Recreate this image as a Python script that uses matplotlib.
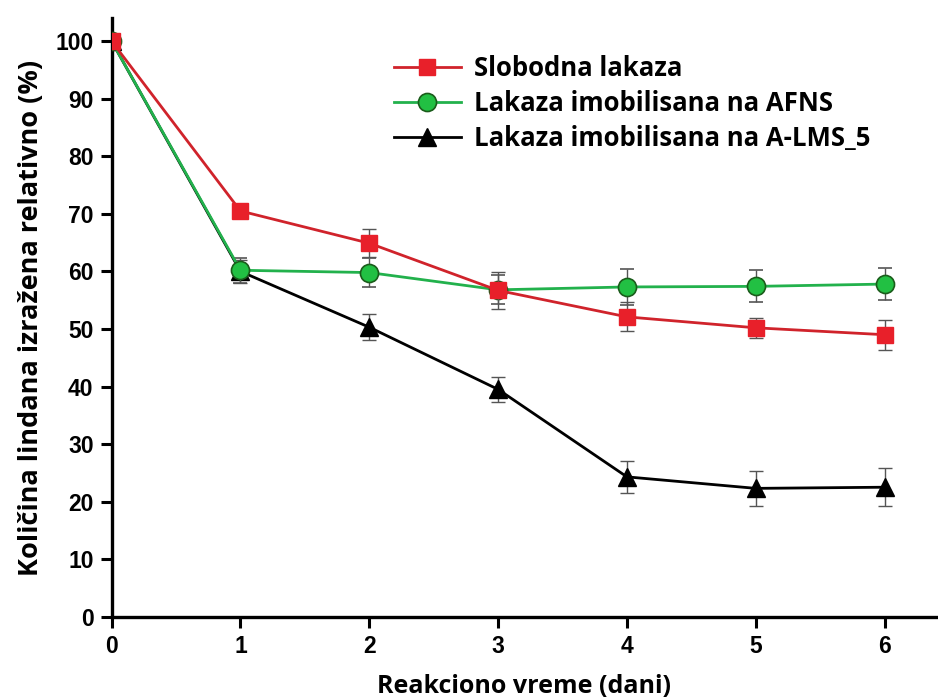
import matplotlib
matplotlib.use("Agg")
import matplotlib.pyplot as plt
from matplotlib.lines import Line2D

days = [0, 1, 2, 3, 4, 5, 6]

free_lac = [100, 70.5, 64.9, 56.7, 52.1, 50.2, 49.0]
free_err = [0, 1.3, 2.4, 3.2, 2.5, 1.7, 2.6]

afns_lac = [100, 60.2, 59.8, 56.8, 57.3, 57.4, 57.8]
afns_err = [0, 2.2, 2.5, 2.5, 3.1, 2.8, 2.8]

alms_lac = [100, 60.0, 50.3, 39.5, 24.3, 22.3, 22.5]
alms_err = [0, 2.0, 2.3, 2.2, 2.8, 3.1, 3.3]

labels = ["Slobodna lakaza", "Lakaza imobilisana na AFNS", "Lakaza imobilisana na A-LMS_5"]

plt.rcParams["font.family"] = ["Liberation Sans", "DejaVu Sans"]

fig = plt.figure(figsize=(9.38, 7), dpi=100)
ax = fig.add_axes([0.119, 0.119, 0.879, 0.855])

err_kw = dict(ecolor="#555555", elinewidth=1, capsize=5, capthick=1)

styles = [
    dict(color="#d0232b", marker="s", ms=12, mfc="#e8202a", mec="#e8202a", mew=1),
    dict(color="#22b14c", marker="o", ms=13, mfc="#22c043", mec="#1a5c1a", mew=1.2),
    dict(color="black", marker="^", ms=13, mfc="black", mec="black", mew=1),
]

ax.errorbar(days, alms_lac, yerr=alms_err, lw=2, zorder=3, **styles[2], **err_kw)
ax.errorbar(days, afns_lac, yerr=afns_err, lw=2, zorder=4, **styles[1], **err_kw)
ax.errorbar(days, free_lac, yerr=free_err, lw=2, zorder=5, **styles[0], **err_kw)

ax.set_xlim(0, 6.4)
ax.set_ylim(0, 104)
ax.set_xticks(days)
ax.set_yticks(range(0, 101, 10))
ax.tick_params(direction="out", length=8, width=2.2, labelsize=16.5, pad=5)
for lab in ax.get_xticklabels() + ax.get_yticklabels():
    lab.set_fontweight("bold")

for side in ["top", "right"]:
    ax.spines[side].set_visible(False)
for side in ["left", "bottom"]:
    ax.spines[side].set_linewidth(2.4)

ax.set_xlabel("Reakciono vreme (dani)", fontsize=18, fontweight="bold", family="Open Sans", labelpad=12)
ax.set_ylabel("Količina lindana izražena relativno (%)", fontsize=19.5, fontweight="bold", family="Open Sans", labelpad=8)

handles = [Line2D([], [], lw=2, **s) for s in styles]
ax.legend(handles, labels, loc="upper left", bbox_to_anchor=(0.33, 0.955), frameon=False,
          prop={"family": "Open Sans", "weight": "bold", "size": 18.5},
          handlelength=2.6, labelspacing=0.3, handletextpad=0.5, borderaxespad=0)

fig.savefig("out.png", dpi=100)
